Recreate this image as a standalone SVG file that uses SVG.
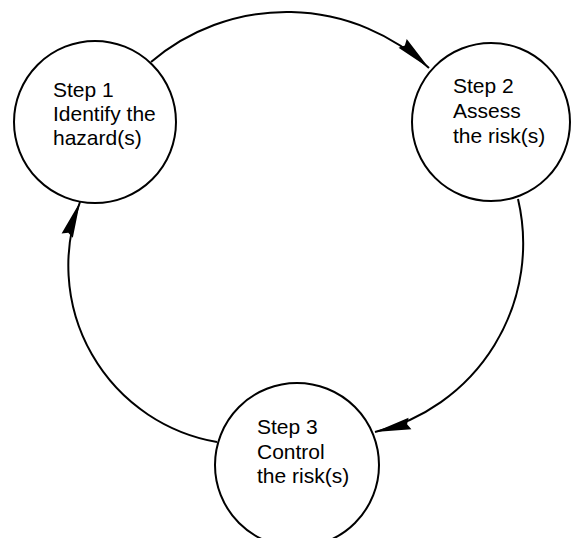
<svg xmlns="http://www.w3.org/2000/svg" width="571" height="538" viewBox="0 0 571 538">
  <style>
    .node { fill: #ffffff; stroke: #000000; stroke-width: 2; }
    .lbl { font-family: "Liberation Sans", Arial, sans-serif; font-size: 21px; fill: #000000; }
    .conn { fill: none; stroke: #000000; stroke-width: 2; }
  </style>
  <defs>
    <marker id="arrow" markerUnits="userSpaceOnUse" viewBox="-40 -8 42 16" refX="0" refY="0" markerWidth="42" markerHeight="16" orient="auto">
      <path d="M0,0 L-36,-6 L-33,0 L-36,6 Z" fill="#000000"/>
    </marker>
  </defs>
  <rect width="571" height="538" fill="#ffffff"/>
  <g id="connectors">
    <path class="conn" d="M151,62 A209,209 0 0,1 429,68" marker-end="url(#arrow)"/>
    <path class="conn" d="M518,199 A194,194 0 0,1 375,432" marker-end="url(#arrow)"/>
    <path class="conn" d="M217,442 A179,179 0 0,1 80,202" marker-end="url(#arrow)"/>
  </g>
  <g id="step1">
    <circle class="node" cx="95" cy="122" r="81"/>
    <text class="lbl" x="53" y="97">Step 1</text>
    <text class="lbl" x="53" y="121">Identify the</text>
    <text class="lbl" x="53" y="145">hazard(s)</text>
  </g>
  <g id="step2">
    <circle class="node" cx="491" cy="122" r="79"/>
    <text class="lbl" x="453" y="93">Step 2</text>
    <text class="lbl" x="453" y="118">Assess</text>
    <text class="lbl" x="453" y="143">the risk(s)</text>
  </g>
  <g id="step3">
    <circle class="node" cx="297" cy="465" r="82"/>
    <text class="lbl" x="257" y="434">Step 3</text>
    <text class="lbl" x="257" y="459">Control</text>
    <text class="lbl" x="257" y="483">the risk(s)</text>
  </g>
</svg>
